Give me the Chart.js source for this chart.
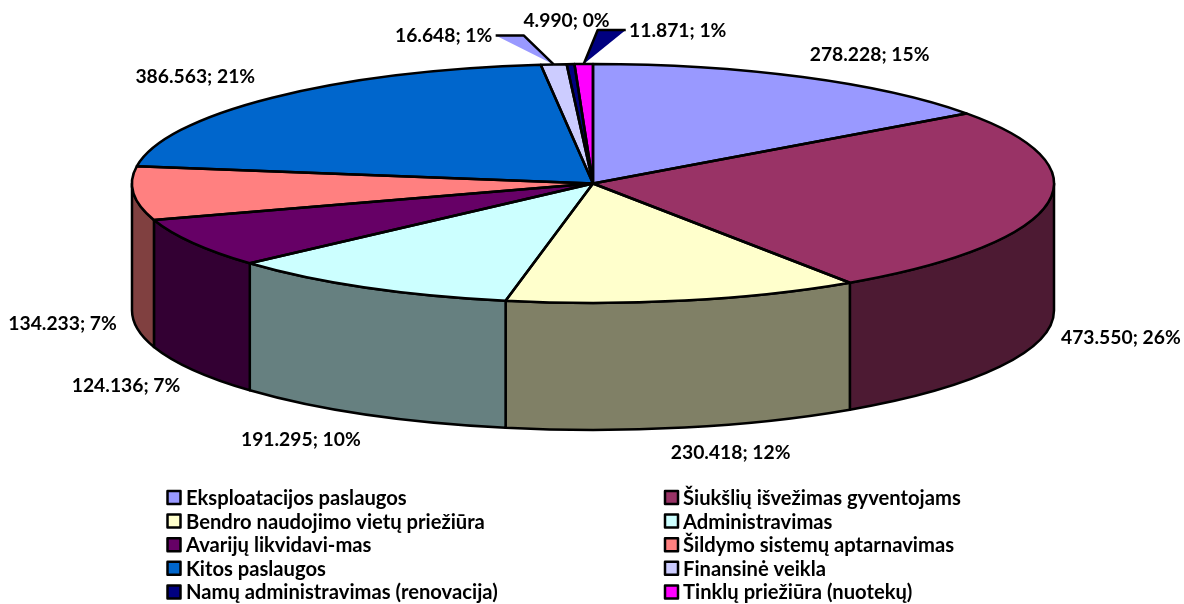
<!DOCTYPE html>
<html lang="lt">
<head>
    <meta charset="UTF-8">
    <title>Paslaugos</title>
    <script src="https://cdn.jsdelivr.net/npm/chart.js"></script>
    <style>
        html, body { margin: 0; padding: 0; background: #fff; }
        #wrap { width: 1184px; height: 604px; position: relative; }
    </style>
</head>
<body>
    <div id="wrap"><canvas id="pie"></canvas></div>

    <script>
        // Data
        const categories = [
            'Eksploatacijos paslaugos', 'Šiukšlių išvežimas gyventojams',
            'Bendro naudojimo vietų priežiūra', 'Administravimas',
            'Avarijų likvidavi-mas', 'Šildymo sistemų aptarnavimas',
            'Kitos paslaugos', 'Finansinė veikla',
            'Namų administravimas (renovacija)', 'Tinklų priežiūra (nuotekų)'
        ];
        const values = [278.228, 473.55, 230.418, 191.295, 124.136, 134.233, 386.563, 16.648, 4.99, 11.871];
        const topColors = ['#9999FF', '#993366', '#FFFFCC', '#CCFFFF', '#660066', '#FF8080', '#0066CC', '#CCCCFF', '#000080', '#FF00FF'];
        const sideColors = ['#4D4D80', '#4D1A33', '#808066', '#668080', '#330033', '#804040', '#003366', '#666680', '#000040', '#800080'];

        // Label offset from the rim point of each slice
        const labelOffsets = [[67, -22], [74, 133], [46, 152], [-65, 152], [-67, 143], [-71, 130], [-77, -21], [-110, -29], [-4, -43], [94, -33]];

        // Pie geometry on the page
        const cx = 593, cy = 183.5, rx = 461, ry = 119.5, depth = 127;
        const lineW = 2.5;
        const labelFont = 'bold 19.3px Lato, sans-serif';
        const legendFont = 'bold 20.2px Lato, sans-serif';

        function sliceLabel(i) {
            const total = values.reduce((a, b) => a + b, 0);
            return values[i].toFixed(3) + '; ' + Math.round(values[i] / total * 100) + '%';
        }

        function rimPoint(arc) {
            const mid = (arc.startAngle + arc.endAngle) / 2;
            return [cx + rx * Math.cos(mid), cy + ry * Math.sin(mid)];
        }

        function drawWalls(ctx, arcs) {
            arcs.forEach((arc, i) => {
                // only the part of the rim facing the viewer, angles 0..PI
                const a = Math.max(arc.startAngle, 0);
                const b = Math.min(arc.endAngle, Math.PI);
                if (a >= b) return;
                ctx.beginPath();
                ctx.ellipse(cx, cy, rx, ry, 0, a, b);
                ctx.ellipse(cx, cy + depth, rx, ry, 0, b, a, true);
                ctx.closePath();
                ctx.fillStyle = sideColors[i];
                ctx.fill();
                ctx.stroke();
            });
        }

        function drawOutlines(ctx, arcs) {
            arcs.forEach(arc => {
                ctx.beginPath();
                ctx.moveTo(cx, cy);
                ctx.ellipse(cx, cy, rx, ry, 0, arc.startAngle, arc.endAngle);
                ctx.closePath();
                ctx.stroke();
            });
        }

        // Excel style leader wedges for the two thin slices
        function drawLeader(ctx, arc, outer, inner, color) {
            const [x, y] = rimPoint(arc);
            ctx.beginPath();
            ctx.moveTo(x + outer[0], y + outer[1]);
            ctx.lineTo(x + inner[0], y + inner[1]);
            ctx.lineTo(x, y);
            ctx.closePath();
            ctx.fillStyle = color;
            ctx.fill();
            // the black line runs along the top and one side only
            ctx.beginPath();
            ctx.moveTo(x + outer[0], y + outer[1]);
            ctx.lineTo(x + inner[0], y + inner[1]);
            ctx.lineTo(x, y);
            ctx.stroke();
        }

        function drawLabels(ctx, arcs) {
            ctx.font = labelFont;
            ctx.fillStyle = '#000';
            ctx.textAlign = 'center';
            ctx.textBaseline = 'middle';
            arcs.forEach((arc, i) => {
                const [x, y] = rimPoint(arc);
                ctx.fillText(sliceLabel(i), x + labelOffsets[i][0], y + labelOffsets[i][1]);
            });
        }

        function drawLegend(ctx) {
            ctx.font = legendFont;
            ctx.textAlign = 'left';
            ctx.textBaseline = 'middle';
            categories.forEach((name, i) => {
                const col = i % 2, row = Math.floor(i / 2);
                const x = col ? 665 : 167.5;
                const y = 497.5 + row * 23.6;
                ctx.fillStyle = topColors[i];
                ctx.fillRect(x, y - 6.5, 13, 13);
                ctx.strokeStyle = '#000';
                ctx.lineWidth = lineW;
                ctx.strokeRect(x, y - 6.5, 13, 13);
                ctx.fillStyle = '#000';
                ctx.fillText(name, col ? 683 : 186, y + 1);
            });
        }

        const pie3d = {
            id: 'pie3d',
            beforeDatasetsDraw(chart) {
                const ctx = chart.ctx;
                const arcs = chart.getDatasetMeta(0).data;
                ctx.strokeStyle = '#000';
                ctx.lineWidth = lineW;
                ctx.lineJoin = 'round';
                drawWalls(ctx, arcs);
                // squash the library's round pie into the top ellipse
                const a = arcs[0];
                ctx.save();
                ctx.translate(cx, cy);
                ctx.scale(rx / a.outerRadius, ry / a.outerRadius);
                ctx.translate(-a.x, -a.y);
            },
            afterDatasetsDraw(chart) {
                const ctx = chart.ctx;
                const arcs = chart.getDatasetMeta(0).data;
                ctx.restore();
                ctx.strokeStyle = '#000';
                ctx.lineWidth = lineW;
                ctx.lineJoin = 'round';
                drawOutlines(ctx, arcs);
                drawLeader(ctx, arcs[7], [-58, -29], [-30, -29], topColors[0]);
                drawLeader(ctx, arcs[9], [42, -34], [14, -34], topColors[8]);
                drawLabels(ctx, arcs);
                drawLegend(ctx);
            }
        };

        new Chart(document.getElementById('pie').getContext('2d'), {
            type: 'pie',
            data: {
                labels: categories,
                datasets: [{ data: values, backgroundColor: topColors, borderWidth: 0 }]
            },
            options: {
                responsive: true,
                maintainAspectRatio: false,
                animation: false,
                plugins: { legend: { display: false }, tooltip: { enabled: false } }
            },
            plugins: [pie3d]
        });
    </script>
</body>
</html>
